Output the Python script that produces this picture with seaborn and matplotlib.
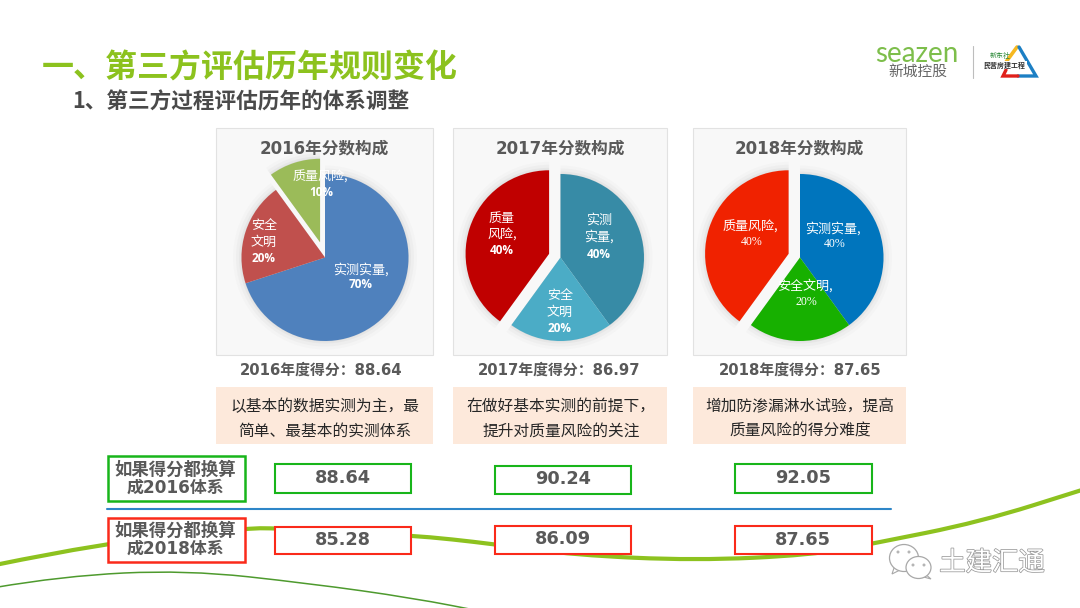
import matplotlib
matplotlib.use('Agg')
import matplotlib.pyplot as plt
import matplotlib.patheffects as pe
from matplotlib.patches import Rectangle, Ellipse, PathPatch, Polygon
from matplotlib.path import Path
import seaborn as sns

W, H = 1080, 608

# Data
years = ['2016', '2017', '2018']
pie_values = [[70, 20, 10], [40, 20, 40], [40, 20, 40]]
pie_names = [['实测实量,', '安全\n文明', '质量风险,'],
             ['实测\n实量,', '安全\n文明', '质量\n风险,'],
             ['实测实量,', '安全文明,', '质量风险,']]
year_scores = ['88.64', '86.97', '87.65']
notes = [['以基本的数据实测为主，最', '简单、最基本的实测体系'],
         ['在做好基本实测的前提下，', '提升对质量风险的关注'],
         ['增加防渗漏淋水试验，提高', '质量风险的得分难度']]
scores_2016 = ['88.64', '90.24', '92.05']
scores_2018 = ['85.28', '86.09', '87.65']

# Pie styling and layout, all in pixels
pie_colors = [['#4F81BD', '#C0504D', '#9BBB59'],
              ['#378BA6', '#4BACC6', '#C00000'],
              ['#0075BD', '#17B000', '#F02200']]
pie_explode = [[0, 0, 16], [0, 0, 12], [0, 0, 12]]
pie_centers = [(325, 257.5), (560.5, 257.5), (800, 257.5)]
panels = [(216, 433), (453, 667), (693, 906)]
label_pos = [[(361, 270), (264, 226), (320, 177)],
             [(599, 221), (560, 296), (502, 218)],
             [(833, 229), (805, 286), (750, 227)]]
pct_pos = [[(361, 285), (264, 258), (321, 192)],
           [(599, 254), (560, 328), (502, 251)],
           [(835, 244), (806, 302), (752, 242)]]
score_x = [321.5, 559, 800]
note_x = [325, 561, 800]
boxes_top = [(275, 411, 464, 492.5), (494.5, 631, 465.5, 493.5), (735, 871.5, 464, 492.5)]
boxes_bot = [(275, 411, 526.5, 553.5), (494.5, 631, 525.5, 553.5), (735, 871.5, 526, 553.5)]

thick_curve = [(-5, 565), (107, 542), (245, 528.5), (275, 528), (411, 535), (494, 544),
               (574, 555), (695, 560.5), (812, 555), (872, 543.7), (980, 522), (1085, 489)]
thin_curve = [(-5, 587.5), (62, 576), (186, 570), (310, 583.5), (413, 598), (490, 613)]

GREEN_TITLE = '#8CC21E'
GREY_TEXT = '#595959'
BOX_GREEN = '#18B51A'
BOX_RED = '#FA2A1A'
CJK = ['Noto Sans CJK SC', 'DejaVu Sans']
NUM_CJK = ['DejaVu Sans', 'Noto Sans CJK SC']

sns.set_theme(style='white')
plt.rcParams['font.family'] = CJK


def smooth_path(points):
    # quadratic segments through midpoints of the read points
    verts = [points[0]]
    codes = [Path.MOVETO]
    for p, q in zip(points[1:-1], points[2:]):
        verts += [p, ((p[0] + q[0]) / 2, (p[1] + q[1]) / 2)]
        codes += [Path.CURVE3, Path.CURVE3]
    verts.append(points[-1])
    codes.append(Path.LINETO)
    return Path(verts, codes)


def draw_box(ax, box, color, lw=1.5):
    x0, x1, y0, y1 = box
    ax.add_patch(Rectangle((x0, y0), x1 - x0, y1 - y0, facecolor='white',
                           edgecolor=color, linewidth=lw, zorder=5))


fig = plt.figure(figsize=(W / 100, H / 100), dpi=100, facecolor='white')

# background layer, pixel coordinates
bg = fig.add_axes([0, 0, 1, 1], zorder=0)
bg.set_xlim(0, W)
bg.set_ylim(H, 0)
bg.axis('off')

bg.add_patch(PathPatch(smooth_path(thick_curve), fill=False, edgecolor='#8DC21F', linewidth=3.0,
                       capstyle='round', zorder=1))
bg.add_patch(PathPatch(smooth_path(thin_curve), fill=False, edgecolor='#4E9A2E', linewidth=1.1, zorder=1))

for (x0, x1) in panels:
    bg.add_patch(Rectangle((x0, 128), x1 - x0, 227, facecolor='#F8F8F8', edgecolor='#E2E2E2',
                           linewidth=0.8, zorder=2))
    bg.add_patch(Rectangle((x0, 387), x1 - x0, 57, facecolor='#FDE9DB', edgecolor='none', zorder=2))

# pies, one axes per panel
for i, values in enumerate(pie_values):
    cx, cy = pie_centers[i]
    half = 120
    ax = fig.add_axes([(cx - half) / W, 1 - (cy + half) / H, 2 * half / W, 2 * half / H], zorder=1)
    # soft halo under the wedges
    for grow, alpha in [(9, 0.025), (6, 0.04), (3, 0.06), (1, 0.08)]:
        ax.pie(values, radius=83 + grow, startangle=90, counterclock=False,
               explode=pie_explode[i], colors=['#707070'] * 3,
               wedgeprops=dict(alpha=alpha, linewidth=0))
    ax.pie(values, radius=83.5, startangle=90, counterclock=False, explode=pie_explode[i],
           colors=pie_colors[i], wedgeprops=dict(linewidth=0))
    ax.set_xlim(-half, half)
    ax.set_ylim(-half, half)
    ax.set_aspect('equal')

# foreground layer
fg = fig.add_axes([0, 0, 1, 1], zorder=2)
fg.set_xlim(0, W)
fg.set_ylim(H, 0)
fg.axis('off')
fg.patch.set_alpha(0)

fg.text(42, 69, '一、第三方评估历年规则变化', fontsize=23, fontweight='bold', color=GREEN_TITLE,
        ha='left', va='center')
fg.text(72, 102, '1、第三方过程评估历年的体系调整', fontsize=15.6, fontweight='bold', color='#4A4A4A',
        ha='left', va='center')

# logo
fg.text(917, 54, 'seazen', family='Lato', fontsize=20, color='#7DBE4B', ha='center', va='center')
fg.text(917.5, 72, '新城控股', fontsize=10.6, color='#666666', ha='center', va='center')
fg.plot([973, 973], [46, 78], color='#BDBDBD', lw=0.8)
fg.plot([1017, 1006], [47, 62], color='#F6B820', lw=2.6, solid_capstyle='round')
fg.plot([1019, 1036, 1018], [47, 76, 76], color='#1C7FC4', lw=2.4, solid_joinstyle='miter')
fg.plot([1006, 1003, 1018], [70, 76, 76], color='#E0201A', lw=2.4, solid_joinstyle='miter')
fg.text(1000, 56, '新东社', fontsize=5, color='#2E8B3A', style='italic', ha='center', va='center')
fg.text(1005, 65, '民营房建工程', fontsize=5, fontweight='bold', color='#333333', ha='center', va='center',
        bbox=dict(facecolor='white', edgecolor='none', pad=0.5))

for i, year in enumerate(years):
    x0, x1 = panels[i]
    cx = (x0 + x1) / 2
    fg.text(cx + (-0.5 if i == 0 else 0), 148, f'{year}年分数构成', family=NUM_CJK, fontsize=12,
            fontweight='bold', color=GREY_TEXT, ha='center', va='center')

    for name, (lx, ly), value, (px, py) in zip(pie_names[i], label_pos[i], pie_values[i], pct_pos[i]):
        fg.text(lx, ly + (8 if '\n' in name else 0), name, fontsize=9.4, color='white', ha='center',
                va='center', linespacing=1.3)
        if i < 2:
            fg.text(px, py, f'{value}%', family='Open Sans', fontsize=8.5, fontweight='bold',
                    color='white', ha='center', va='center')
        else:
            fg.text(px, py, f'{value}%', family='Liberation Serif', fontsize=8.6, color='white',
                    ha='center', va='center')

    fg.text(score_x[i], 370, f'{year}年度得分：{year_scores[i]}', family=NUM_CJK, fontsize=10.7,
            fontweight='bold', color=GREY_TEXT, ha='center', va='center')
    fg.text(note_x[i], 406.5, notes[i][0], fontsize=11.3, color='#262626', ha='center', va='center')
    fg.text(note_x[i], 431, notes[i][1], fontsize=11.3, color='#262626', ha='center', va='center')

    draw_box(fg, boxes_top[i], BOX_GREEN)
    draw_box(fg, boxes_bot[i], BOX_RED)
    x0, x1, y0, y1 = boxes_top[i]
    fg.text((x0 + x1) / 2, (y0 + y1) / 2, scores_2016[i], family='DejaVu Sans', fontsize=12.8,
            fontweight='bold', color=GREY_TEXT, ha='center', va='center', zorder=6)
    x0, x1, y0, y1 = boxes_bot[i]
    fg.text((x0 + x1) / 2, (y0 + y1) / 2, scores_2018[i], family='DejaVu Sans', fontsize=12.8,
            fontweight='bold', color=GREY_TEXT, ha='center', va='center', zorder=6)

# row labels and divider
draw_box(fg, (107.5, 244.5, 455.5, 500.5), BOX_GREEN, lw=1.8)
draw_box(fg, (107.5, 244.5, 517.5, 562), BOX_RED, lw=1.8)
fg.plot([107, 891], [508.5, 508.5], color='#2E86C8', lw=1.5, zorder=4)
for y1, y2, year in [(469.5, 487.5, '2016'), (530.5, 549, '2018')]:
    fg.text(175, y1, '如果得分都换算', family=NUM_CJK, fontsize=12.5, fontweight='bold', color=GREY_TEXT,
            ha='center', va='center', zorder=6)
    fg.text(175, y2, f'成{year}体系', family=NUM_CJK, fontsize=12.2, fontweight='bold', color=GREY_TEXT,
            ha='center', va='center', zorder=6)

# watermark
mark_edge = '#A8A8A8'
fg.add_patch(Polygon([(895, 565), (892, 574), (902, 569)], facecolor='white', edgecolor=mark_edge, lw=0.8, zorder=6))
fg.add_patch(Ellipse((904, 558), 29, 27, facecolor='white', edgecolor=mark_edge, lw=0.9, zorder=6))
fg.add_patch(Polygon([(924, 573), (931, 579), (920, 576)], facecolor='white', edgecolor=mark_edge, lw=0.8, zorder=6))
fg.add_patch(Ellipse((918.5, 567.5), 25, 22, facecolor='white', edgecolor=mark_edge, lw=0.9, zorder=7))
for ex, ey, ez in [(898, 552, 6), (909, 552, 6), (913, 565, 8), (924, 565, 8)]:
    fg.add_patch(Ellipse((ex, ey), 3, 3, facecolor='#B5B5B5', edgecolor='none', zorder=ez))
wm = fg.text(992, 563, '土建汇通', fontsize=19, color='white', ha='center', va='center', zorder=7)
wm.set_path_effects([pe.withStroke(linewidth=1.1, foreground='#9A9A9A')])

fig.savefig('out.png', dpi=100)
plt.close('all')
